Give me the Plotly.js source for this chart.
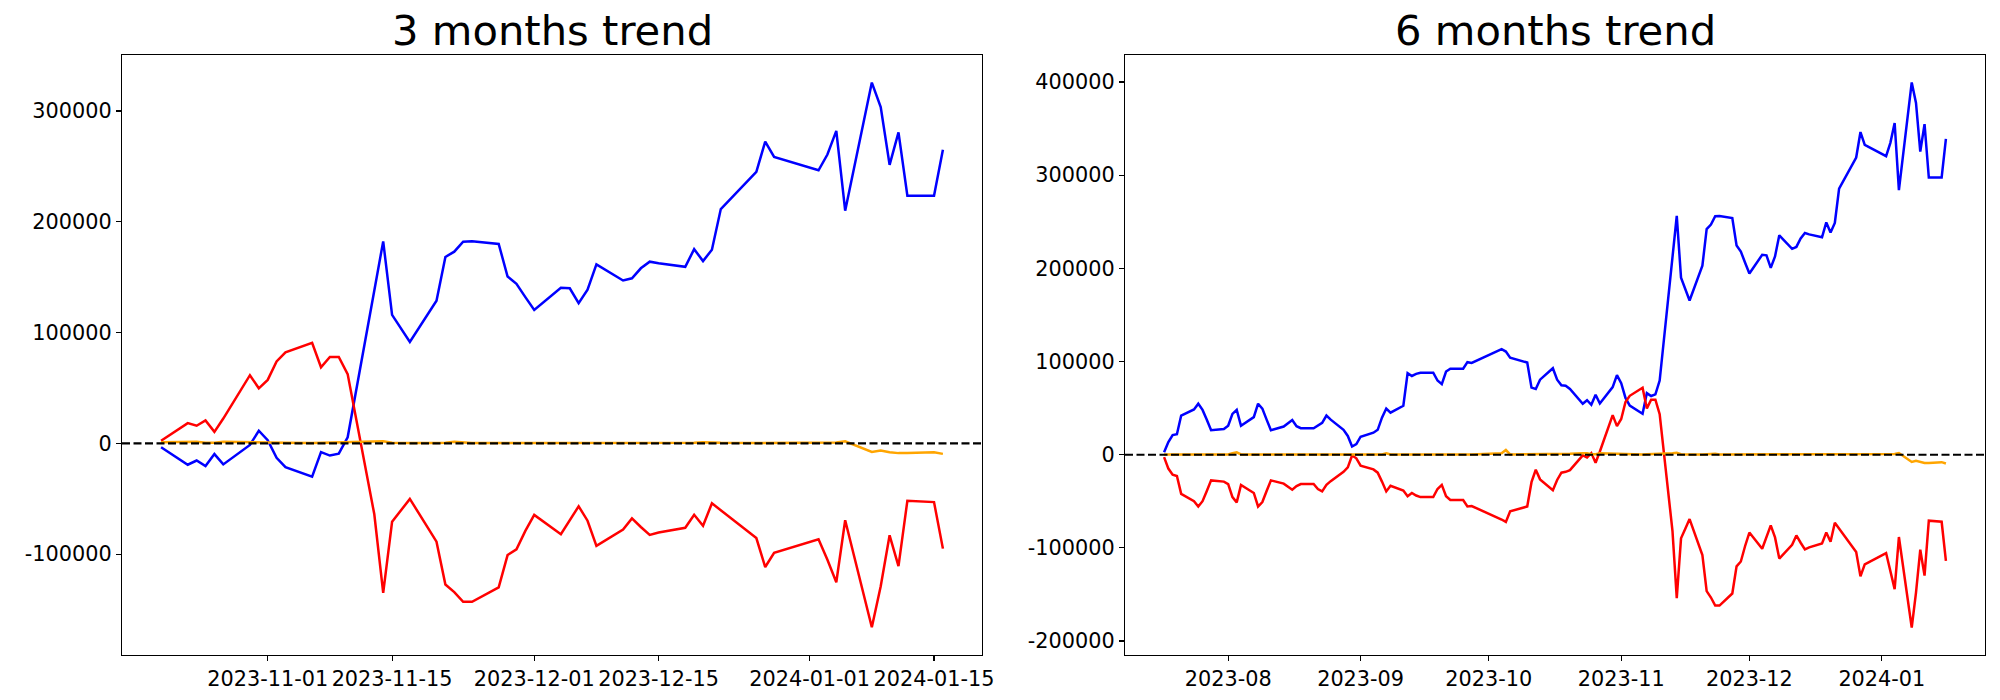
<!DOCTYPE html>
<html><head><meta charset="utf-8">
<script src="https://cdn.plot.ly/plotly-3.0.1.min.js"></script>
<style>html,body{margin:0;padding:0;background:#fff}#chart{width:2000px;height:700px}</style>
</head><body><div id="chart"></div>
<script>
// ---------- 3 months trend ----------
const dates3 = ["2023-10-20","2023-10-23","2023-10-24","2023-10-25","2023-10-26","2023-10-27","2023-10-30","2023-10-31",
"2023-11-01","2023-11-02","2023-11-03","2023-11-06","2023-11-07","2023-11-08","2023-11-09","2023-11-10","2023-11-13","2023-11-14","2023-11-15","2023-11-16","2023-11-17","2023-11-20","2023-11-21","2023-11-22","2023-11-23","2023-11-24","2023-11-27","2023-11-28","2023-11-29","2023-11-30",
"2023-12-01","2023-12-04","2023-12-05","2023-12-06","2023-12-07","2023-12-08","2023-12-11","2023-12-12","2023-12-13","2023-12-14","2023-12-15","2023-12-18","2023-12-19","2023-12-20","2023-12-21","2023-12-22","2023-12-26","2023-12-27","2023-12-28",
"2024-01-02","2024-01-03","2024-01-04","2024-01-05","2024-01-08","2024-01-09","2024-01-10","2024-01-11","2024-01-12","2024-01-15","2024-01-16"];
const blue3 = [-3500,-19300,-15500,-20400,-9700,-19000,-1400,11400,
2800,-13100,-21400,-30000,-7900,-11000,-9300,5500,138000,182300,116000,103500,91500,128800,168200,173000,182000,182300,180000,150600,144000,132000,
120500,140500,140000,126500,138800,161500,147000,149000,158000,164000,162500,159300,175300,164500,174800,211500,245000,272300,258500,
246500,260700,282000,210000,325600,303500,251400,280700,223500,223500,265000];
const red3 = [2400,18300,15900,20700,10400,22400,61500,49700,
57300,73900,82200,90800,68700,78000,78000,62500,-64000,-135000,-70800,-60500,-50100,-88700,-127400,-134300,-143000,-143000,-130000,-100800,-95600,-79000,
-64600,-82000,-69500,-56800,-69800,-92500,-77800,-67700,-75500,-82600,-80500,-76200,-64500,-74400,-54100,-60400,-85500,-111600,-98700,
-86600,-105000,-125300,-69400,-166000,-129000,-83000,-110800,-51800,-53000,-95000];
const orange3 = [1000,1500,1500,500,500,1500,1000,500,
500,800,500,300,500,500,800,1000,1500,2000,500,300,300,300,500,1500,1000,300,300,300,300,300,
300,300,300,300,300,300,300,300,300,300,300,300,500,1000,1000,500,300,300,300,
300,300,800,1800,-7800,-6500,-8000,-8800,-8800,-8000,-9500];

// ---------- 6 months trend ----------
const dates6 = ["2023-07-17","2023-07-18","2023-07-19","2023-07-20","2023-07-21","2023-07-24","2023-07-25","2023-07-26","2023-07-27","2023-07-28","2023-07-31",
"2023-08-01","2023-08-02","2023-08-03","2023-08-04","2023-08-07","2023-08-08","2023-08-09","2023-08-10","2023-08-11","2023-08-14","2023-08-16","2023-08-17","2023-08-18","2023-08-21","2023-08-22","2023-08-23","2023-08-24","2023-08-25","2023-08-28","2023-08-29","2023-08-30","2023-08-31",
"2023-09-01","2023-09-04","2023-09-05","2023-09-06","2023-09-07","2023-09-08","2023-09-11","2023-09-12","2023-09-13","2023-09-14","2023-09-15","2023-09-18","2023-09-19","2023-09-20","2023-09-21","2023-09-22","2023-09-25","2023-09-26","2023-09-27",
"2023-10-04","2023-10-05","2023-10-06","2023-10-10","2023-10-11","2023-10-12","2023-10-13","2023-10-16","2023-10-17","2023-10-18","2023-10-19",
"2023-10-20","2023-10-23","2023-10-24","2023-10-25","2023-10-26","2023-10-27","2023-10-30","2023-10-31",
"2023-11-01","2023-11-02","2023-11-03","2023-11-06","2023-11-07","2023-11-08","2023-11-09","2023-11-10","2023-11-13","2023-11-14","2023-11-15","2023-11-16","2023-11-17","2023-11-20","2023-11-21","2023-11-22","2023-11-23","2023-11-24","2023-11-27","2023-11-28","2023-11-29","2023-11-30",
"2023-12-01","2023-12-04","2023-12-05","2023-12-06","2023-12-07","2023-12-08","2023-12-11","2023-12-12","2023-12-13","2023-12-14","2023-12-15","2023-12-18","2023-12-19","2023-12-20","2023-12-21","2023-12-22","2023-12-26","2023-12-27","2023-12-28",
"2024-01-02","2024-01-03","2024-01-04","2024-01-05","2024-01-08","2024-01-09","2024-01-10","2024-01-11","2024-01-12","2024-01-15","2024-01-16"];
const blue6 = [2600,13600,21000,21900,42000,48600,54700,48100,37600,26300,27600,
31100,43800,48100,31100,40300,54700,49500,37600,26300,30200,37200,30600,28400,28400,31100,34100,42000,37600,26700,20100,8800,11400,
19300,23600,26700,39800,49500,45100,52500,87500,84500,86700,88000,88000,79600,75700,89300,92300,92300,99300,98500,
113300,110700,104200,98900,72000,70500,80500,92800,80500,74400,74000,
70500,54700,58500,53600,64300,55000,72600,85400,
76800,60900,52600,44000,66100,63000,64700,79500,212000,256300,190000,177500,165500,202800,242200,247000,256000,256300,254000,224600,218000,206000,
194500,214500,214000,200500,212800,235500,221000,223000,232000,238000,236500,233300,249300,238500,248800,285500,319000,346300,332500,
320500,334700,356000,284000,399600,377500,325400,354700,297500,297500,339000];
const red6 = [-2600,-14900,-21400,-22800,-42000,-49900,-55600,-49900,-39000,-27600,-28900,
-31500,-45500,-51200,-32400,-41100,-55600,-50800,-39000,-27600,-31100,-37600,-33700,-31500,-31500,-36800,-39400,-32400,-28400,-18400,-13600,-900,-3900,
-11800,-15800,-19300,-28900,-39400,-33300,-38500,-44600,-41100,-43800,-45500,-45500,-36800,-32400,-44600,-48600,-48600,-55600,-55100,
-69600,-72200,-60800,-55600,-29500,-16200,-26500,-38100,-27100,-19300,-18400,
-16600,-700,-3100,1700,-8600,3400,42500,30700,
38300,56500,63200,71800,49700,59000,59000,43500,-82000,-154000,-89800,-79500,-69100,-107700,-146400,-153300,-162000,-162000,-149000,-119800,-114600,-98000,
-83600,-101000,-88500,-75800,-88800,-111500,-96800,-86700,-94500,-101600,-99500,-95200,-83500,-93400,-73100,-79400,-104500,-130600,-117700,
-105600,-124000,-144300,-88400,-185600,-148000,-102000,-129800,-70800,-72000,-114000];
const orange6 = [300,300,300,300,300,300,300,300,300,300,300,
300,1500,2500,300,300,300,300,300,300,300,300,300,300,300,300,300,500,300,300,300,300,300,
300,300,300,300,1500,300,300,300,300,300,300,300,300,300,300,300,300,300,300,
1500,5000,300,300,300,300,300,300,1000,300,300,
1000,1500,1500,500,500,1500,1000,500,
500,800,500,300,500,500,800,1000,1500,2000,500,300,300,300,500,1500,1000,300,300,300,300,300,
300,300,300,300,300,300,300,300,300,300,300,300,500,1000,1000,500,300,300,300,
300,300,800,1800,-7800,-6500,-8000,-8800,-8800,-8000,-9500];

const yTicks3 = [-100000, 0, 100000, 200000, 300000];
const yTicks6 = [-200000, -100000, 0, 100000, 200000, 300000, 400000];
const xTicks3 = ["2023-11-01","2023-11-15","2023-12-01","2023-12-15","2024-01-01","2024-01-15"];
const xTicks6 = ["2023-08-01","2023-09-01","2023-10-01","2023-11-01","2023-12-01","2024-01-01"];
const titles = ["3 months trend", "6 months trend"];

const FONT = "DejaVu Sans, Liberation Sans, sans-serif";
const LW = 2.5;
function tr(x, y, color, xa, ya) {
  return {x: x, y: y, type: "scatter", mode: "lines", line: {color: color, width: LW},
          xaxis: xa, yaxis: ya, showlegend: false, hoverinfo: "skip"};
}
const data = [
  tr(dates3, blue3, "#0000ff", "x", "y"),
  tr(dates3, red3, "#ff0000", "x", "y"),
  tr(dates3, orange3, "#ffa500", "x", "y"),
  tr(dates6, blue6, "#0000ff", "x2", "y2"),
  tr(dates6, red6, "#ff0000", "x2", "y2"),
  tr(dates6, orange6, "#ffa500", "x2", "y2")
];

const axCommon = {showgrid: false, zeroline: false, showline: true, linecolor: "#000", linewidth: 1.1,
  mirror: true, ticks: "outside", ticklen: 5, tickwidth: 1.1, tickcolor: "#000",
  tickfont: {family: FONT, size: 20.8, color: "#000"}, automargin: false};

const W = 2000, H = 700;
const layout = {
  width: W, height: H, margin: {l: 0, r: 0, t: 0, b: 0},
  paper_bgcolor: "#fff", plot_bgcolor: "#fff", showlegend: false,
  font: {family: FONT, color: "#000"},
  xaxis: Object.assign({}, axCommon, {type: "date", domain: [122/W, 982/W], anchor: "y",
    range: ["2023-10-15 14:24", "2024-01-20 09:36"], tickmode: "array", tickvals: xTicks3,
    ticktext: xTicks3}),
  yaxis: Object.assign({}, axCommon, {domain: [45/H, 645/H], anchor: "x",
    range: [-191000, 350500], tickmode: "array", tickvals: yTicks3, ticktext: yTicks3.map(String)}),
  xaxis2: Object.assign({}, axCommon, {type: "date", domain: [1125/W, 1985/W], anchor: "y2",
    range: ["2023-07-07 20:24", "2024-01-25 03:36"], tickmode: "array", tickvals: xTicks6,
    ticktext: xTicks6.map(s => s.slice(0, 7))}),
  yaxis2: Object.assign({}, axCommon, {domain: [45/H, 645/H], anchor: "x2",
    range: [-215000, 429000], tickmode: "array", tickvals: yTicks6, ticktext: yTicks6.map(String)}),
  shapes: [
    {type: "line", xref: "x domain", yref: "y", x0: 0, x1: 1, y0: 0, y1: 0,
     line: {color: "#000", width: 2.1, dash: "8px,3.5px"}, layer: "above"},
    {type: "line", xref: "x2 domain", yref: "y2", x0: 0, x1: 1, y0: 0, y1: 0,
     line: {color: "#000", width: 2.1, dash: "8px,3.5px"}, layer: "above"}
  ],
  annotations: [
    {text: titles[0], xref: "paper", yref: "paper", x: (122+982)/2/W, y: 1 - 31/H,
     xanchor: "center", yanchor: "middle", showarrow: false, font: {family: FONT, size: 41.7, color: "#000"}},
    {text: titles[1], xref: "paper", yref: "paper", x: (1125+1985)/2/W, y: 1 - 31/H,
     xanchor: "center", yanchor: "middle", showarrow: false, font: {family: FONT, size: 41.7, color: "#000"}}
  ]
};
Plotly.newPlot("chart", data, layout, {staticPlot: true, displayModeBar: false});
</script></body></html>
